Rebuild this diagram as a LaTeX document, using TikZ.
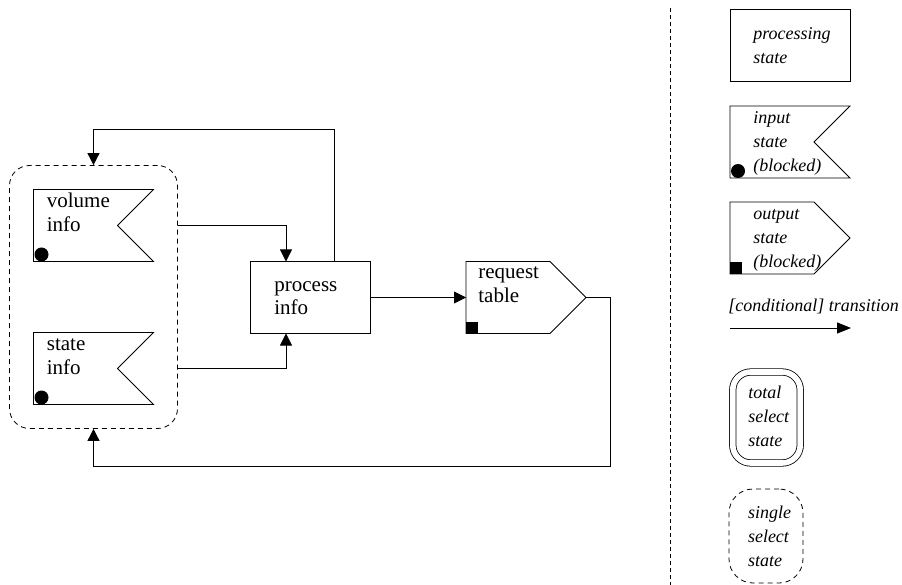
\documentclass[tikz,border=0pt]{standalone}
\usepackage{fontspec}
\setmainfont{Liberation Serif}
\usetikzlibrary{arrows.meta, positioning, fit}

\begin{document}
\begin{tikzpicture}[x=1pt,y=-1pt,line width=0.8pt,>={Triangle[length=12pt,width=12pt]},
box/.style={rectangle,minimum width=120pt,minimum height=72pt,inner sep=0pt,outer sep=0pt},
txt/.style={anchor=base west,align=left,inner sep=0pt,font=\fontsize{21}{24}\selectfont},
lgd/.style={anchor=base west,align=left,inner sep=0pt,font=\fontsize{18}{24}\selectfont\itshape},
grpbox/.style={draw,dash pattern=on 5pt off 4pt,rounded corners=20pt,inner sep=24pt}]
\useasboundingbox (0,0) rectangle (902,585);

% states
\node[box] (vol) at (93.5,225.5) {};
\node[box] (sta) [below=71pt of vol] {};
\node[box,draw] (proc) at (310,297.5) {};
\node[box] (req) [right=96pt of proc] {};
\node[grpbox,fit=(vol)(sta)] (grp) {};

% legend
\coordinate (divtop) at (670,8);
\coordinate (divbot) at (670,585);
\node[box,draw] (pst) at (790,45) {};
\node[box] (inl) [below=25pt of pst] {};
\node[box] (outl) [below=24pt of inl] {};
\node[lgd] (trl) at (728,312) {[conditional] transition};
\coordinate (tra) at (730,328);
\coordinate (trb) at (851,328);
\node[draw,double,double distance=5.6pt,rounded corners=18pt,minimum width=67.5pt,minimum height=91pt,inner sep=0pt] (tot) at (766.5,417.5) {};
\node[draw,dash pattern=on 5pt off 4pt,rounded corners=24pt,minimum width=74pt,minimum height=94pt,inner sep=0pt] (sgl) at (766,536) {};

% shapes
\foreach \n in {vol,sta,inl} {
  \draw (\n.north west) -- (\n.north east) -- ([xshift=-36pt]\n.east) -- (\n.south east) -- (\n.south west) -- cycle;
  \fill ([shift={(8pt,7pt)}]\n.south west) circle (7pt);
}
\foreach \n in {req,outl} {
  \draw (\n.north west) -- ([xshift=-36pt]\n.north east) -- (\n.east) -- ([xshift=-36pt]\n.south east) -- (\n.south west) -- cycle;
  \fill (\n.south west) rectangle ++(12,-12);
}

% labels (base = last line)
\node[txt] (voltxt) at ([shift={(13pt,-42pt)}]vol.north west) {volume\\info};
\node[txt] (statxt) at ([shift={(13pt,-42pt)}]sta.north west) {state\\info};
\node[txt] (proctxt) at ([shift={(24pt,-53.5pt)}]proc.north west) {process\\info};
\node[txt] (reqtxt) at ([shift={(12pt,-41pt)}]req.north west) {request\\table};
\node[lgd] (psttxt) at ([shift={(23pt,-54.5pt)}]pst.north west) {processing\\state};
\node[lgd] (inltxt) at ([shift={(23pt,-66pt)}]inl.north west) {input\\state\\(blocked)};
\node[lgd] (outltxt) at ([shift={(23pt,-66pt)}]outl.north west) {output\\state\\(blocked)};
\node[lgd] (tottxt) at ([shift={(15.5pt,-75pt)}]tot.north west) {total\\select\\state};
\node[lgd] (sgltxt) at ([shift={(19pt,-78pt)}]sgl.north west) {single\\select\\state};

% transitions
\draw[->] (grp.east |- vol) -| ([xshift=-24pt]proc.north);
\draw[->] (grp.east |- sta) -| ([xshift=-24pt]proc.south);
\draw[->] ([xshift=24pt]proc.north) |- ([yshift=36pt]grp.north) -- (grp.north);
\draw[->] (proc) -- (req);
\draw[->] (req.east) -- ++(24,0) |- ([yshift=-37pt]grp.south) -- (grp.south);
\draw[->,>={Triangle[length=14pt,width=11pt]}] (tra) -- (trb);
\draw[dash pattern=on 4pt off 3pt] (divtop) -- (divbot);
\end{tikzpicture}
\end{document}
